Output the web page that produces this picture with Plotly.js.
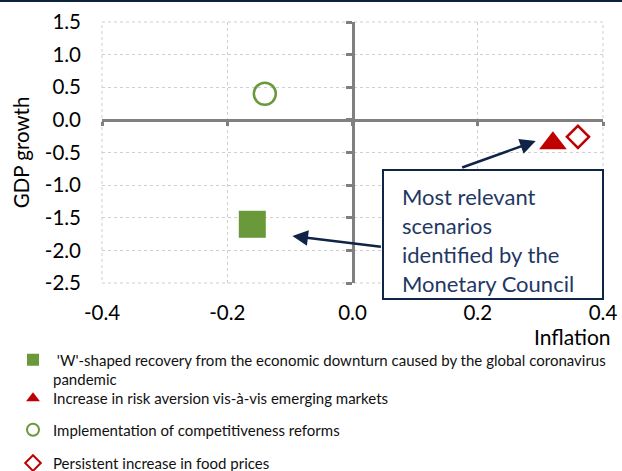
<!DOCTYPE html>
<html>
<head>
<meta charset="utf-8">
<script src="https://cdn.plot.ly/plotly-3.0.1.min.js"></script>
<style>html,body{margin:0;padding:0;background:#fff;}#chart{width:622px;height:471px;}</style>
</head>
<body>
<div id="chart"></div>
<script>
// ---- data ----
const scenarios = [
  "\u00a0'W'-shaped recovery from the economic downturn caused by the global coronavirus<br>pandemic",
  "Increase in risk aversion vis-\u00e0-vis emerging markets",
  "Implementation of competitiveness reforms",
  "Persistent increase in food prices"
];
const inflation = [-0.16, 0.32, -0.14, 0.36];
const gdpGrowth = [-1.6, -0.36, 0.4, -0.26];
const xTicks = [-0.4, -0.2, 0.0, 0.2, 0.4];
const yTicks = [-2.5, -2.0, -1.5, -1.0, -0.5, 0.0, 0.5, 1.0, 1.5];
const boxLines = ["Most relevant", "scenarios", "identified by the", "Monetary Council"];
const xTitle = "Inflation";
const yTitle = "GDP growth";

// ---- styles ----
const W = 622, H = 471;
const M = {l: 102, r: 19, t: 22, b: 188, autoexpand: false};
const PW = W - M.l - M.r, PH = H - M.t - M.b;
const px2x = p => (p - M.l) / PW;
const py2y = p => (H - M.b - p) / PH;
const FONT = "Lato, 'Carlito', Calibri, sans-serif";
const NAVY = "#0f2447";
const GREEN = "#69993a";
const RED = "#c00000";
const AXIS = "#808080";
const GRID = "#cfcfcf";

const markerStyles = [
  {symbol: "square", size: 27, color: GREEN},
  {symbol: "triangle-up", size: 24, color: RED},
  {symbol: "circle-open", size: 22, color: GREEN, line: {color: GREEN, width: 2.5}},
  {symbol: "diamond-open", size: 17, color: RED, line: {color: RED, width: 2.5}}
];
const legendNames = ["legend", "legend2", "legend3", "legend4"];

const traces = scenarios.map((name, i) => ({
  type: "scatter", mode: "markers",
  x: [inflation[i]], y: [gdpGrowth[i]],
  name: name,
  legend: legendNames[i],
  marker: markerStyles[i],
  hoverinfo: "x+y+name"
}));
// empty helper trace so the zero-crossing axes exist
traces.push({type: "scatter", x: [], y: [], xaxis: "x2", yaxis: "y2", showlegend: false, hoverinfo: "skip"});

const legendCenters = [369.5, 398.5, 430, 463.3];
const legendBase = {
  x: px2x(13), xanchor: "left", yanchor: "middle",
  bgcolor: "rgba(0,0,0,0)", borderwidth: 0,
  font: {family: FONT, size: 15, color: "#111"},
  itemsizing: "constant", valign: "top", itemclick: false, itemdoubleclick: false
};

const layout = {
  width: W, height: H,
  margin: M,
  paper_bgcolor: "#fff", plot_bgcolor: "#fff",
  font: {family: FONT, color: "#000"},
  showlegend: true,
  xaxis: {
    range: [-0.4, 0.4], tickmode: "array", tickvals: xTicks,
    ticktext: xTicks.map(v => v.toFixed(1)),
    showgrid: true, gridcolor: GRID, griddash: "dot", gridwidth: 1,
    zeroline: false, showline: false, ticks: "",
    ticklabelstandoff: 15,
    tickfont: {family: FONT, size: 20.5, color: "#000"},
    fixedrange: true
  },
  yaxis: {
    range: [-2.5, 1.5], tickmode: "array", tickvals: yTicks,
    ticktext: yTicks.map(v => v.toFixed(1)),
    showgrid: true, gridcolor: GRID, griddash: "dot", gridwidth: 1,
    zeroline: false, showline: false, ticks: "",
    ticklabelstandoff: 20,
    tickfont: {family: FONT, size: 20.5, color: "#000"},
    title: {text: yTitle, font: {family: FONT, size: 20.5, color: "#000"}, standoff: 9},
    fixedrange: true
  },
  xaxis2: {
    overlaying: "x", anchor: "free", position: 0.625, side: "bottom",
    range: [-0.4, 0.4], tickmode: "array", tickvals: xTicks,
    showline: true, linecolor: AXIS, linewidth: 2.5,
    ticks: "outside", ticklen: 4, tickwidth: 2.5, tickcolor: AXIS,
    showticklabels: false, showgrid: false, zeroline: false, fixedrange: true
  },
  yaxis2: {
    overlaying: "y", anchor: "free", position: 0.5, side: "left",
    range: [-2.5, 1.5], tickmode: "array", tickvals: yTicks,
    showline: true, linecolor: AXIS, linewidth: 2.5,
    ticks: "outside", ticklen: 6, tickwidth: 2.5, tickcolor: AXIS,
    showticklabels: false, showgrid: false, zeroline: false, fixedrange: true
  },
  shapes: [
    // top navy rule
    {type: "rect", xref: "paper", yref: "paper", x0: px2x(0), x1: px2x(W), y0: py2y(2), y1: py2y(0),
     fillcolor: "#0d2240", line: {width: 0}, layer: "above"},
    // dotted plot border
    {type: "rect", xref: "paper", yref: "paper", x0: 0, x1: 1, y0: 0, y1: 1,
     line: {color: GRID, width: 1, dash: "dot"}, fillcolor: "rgba(0,0,0,0)", layer: "below"},
    // callout box
    {type: "rect", xref: "paper", yref: "paper", x0: px2x(383), x1: px2x(603), y0: py2y(299), y1: py2y(170),
     line: {color: NAVY, width: 2}, fillcolor: "#fff", layer: "above"}
  ],
  annotations: [
    ...boxLines.map((t, i) => ({
      text: t, xref: "paper", yref: "paper", x: px2x(400), y: py2y(196 + 29 * i),
      xanchor: "left", yanchor: "middle", showarrow: false,
      font: {family: FONT, size: 22, color: "#1f3864"}
    })),
    {text: "", xref: "x", yref: "y", x: 0.2925, y: -0.325, ax: -75, ay: 27, axref: "pixel", ayref: "pixel",
     showarrow: true, arrowhead: 2, arrowsize: 1.25, arrowwidth: 2.5, arrowcolor: NAVY, standoff: 0, startstandoff: 0},
    {text: "", xref: "x", yref: "y", x: -0.096, y: -1.78, ax: 90, ay: 11, axref: "pixel", ayref: "pixel",
     showarrow: true, arrowhead: 2, arrowsize: 1.25, arrowwidth: 2.5, arrowcolor: NAVY, standoff: 0, startstandoff: 0},
    {text: xTitle, xref: "paper", yref: "paper", x: px2x(572), y: py2y(336), xanchor: "center", yanchor: "middle",
     showarrow: false, font: {family: FONT, size: 21, color: "#000"}}
  ]
};
legendNames.forEach((ln, i) => {
  layout[ln] = Object.assign({}, legendBase, {y: py2y(legendCenters[i])});
});

Plotly.newPlot("chart", traces, layout, {displayModeBar: false, staticPlot: false});
</script>
</body>
</html>
